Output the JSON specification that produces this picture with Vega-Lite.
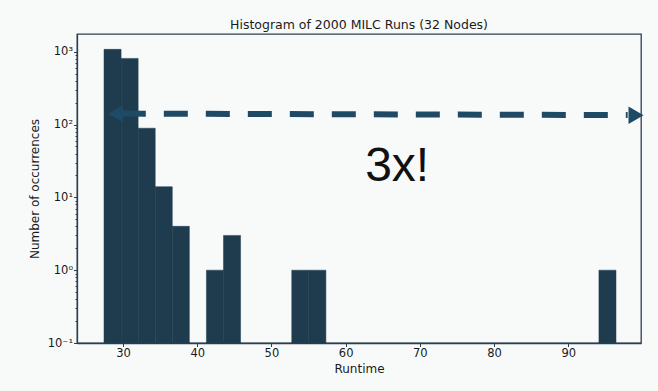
{
  "$schema": "https://vega.github.io/schema/vega-lite/v6.json",
  "width": 564,
  "height": 309,
  "autosize": "none",
  "padding": {"left": 77, "top": 34, "right": 17, "bottom": 48},
  "background": "#f8fafa",
  "title": {
    "text": "Histogram of 2000 MILC Runs (32 Nodes)",
    "font": "DejaVu Sans",
    "fontSize": 12.5,
    "fontWeight": "normal",
    "color": "#1a1a1a",
    "offset": 3
  },
  "config": {
    "view": {"stroke": "#2b3f4c", "strokeWidth": 1.3, "fill": "#f8fafa"},
    "axis": {
      "domainColor": "#2b3f4c",
      "domainWidth": 1.3,
      "tickColor": "#2b3f4c",
      "labelFont": "DejaVu Sans",
      "labelFontSize": 11.5,
      "labelColor": "#1a1a1a",
      "titleFont": "DejaVu Sans",
      "titleFontSize": 12,
      "titleFontWeight": "normal",
      "titleColor": "#1a1a1a",
      "grid": false
    }
  },
  "datasets": {
    "bins": [
      {"start": 27.44, "end": 29.74, "count": 1077},
      {"start": 29.74, "end": 32.04, "count": 809},
      {"start": 32.04, "end": 34.34, "count": 89},
      {"start": 34.34, "end": 36.64, "count": 14},
      {"start": 36.64, "end": 38.94, "count": 4},
      {"start": 41.24, "end": 43.54, "count": 1},
      {"start": 43.54, "end": 45.84, "count": 3},
      {"start": 52.74, "end": 55.04, "count": 1},
      {"start": 55.04, "end": 57.34, "count": 1},
      {"start": 94.13, "end": 96.43, "count": 1}
    ],
    "arrowline": [
      {"runtime": 29.84, "level": 141.3},
      {"runtime": 98.0, "level": 134.7}
    ],
    "arrowheads": [
      {"runtime": 28.99, "level": 141, "end": "left"},
      {"runtime": 99.13, "level": 134.2, "end": "right"}
    ],
    "note": [
      {"runtime": 66.94, "level": 17.0, "label": "3x!"}
    ]
  },
  "layer": [
    {
      "data": {"name": "bins"},
      "mark": {"type": "rect", "fill": "#1f3c4f", "stroke": "#1f3c4f", "strokeWidth": 0.5},
      "encoding": {
        "x": {
          "field": "start",
          "type": "quantitative",
          "scale": {"domain": [23.8, 99.8], "nice": false, "zero": false},
          "axis": {
            "title": "Runtime",
            "values": [30, 40, 50, 60, 70, 80, 90],
            "tickSize": 3.5,
            "labelPadding": 1,
            "titlePadding": 4
          }
        },
        "x2": {"field": "end"},
        "y": {
          "field": "count",
          "type": "quantitative",
          "scale": {"type": "log", "domain": [0.1, 1750], "nice": false},
          "axis": {
            "title": "Number of occurrences",
            "values": [0.1, 0.2, 0.3, 0.4, 0.5, 0.6, 0.7, 0.8, 0.9, 1, 2, 3, 4, 5, 6, 7, 8, 9, 10, 20, 30, 40, 50, 60, 70, 80, 90, 100, 200, 300, 400, 500, 600, 700, 800, 900, 1000],
            "labelExpr": "datum.value == 1000 ? '10³' : datum.value == 100 ? '10²' : datum.value == 10 ? '10¹' : datum.value == 1 ? '10⁰' : datum.value == 0.1 ? '10⁻¹' : ''",
            "tickSize": {"condition": {"test": "indexof([0.1, 1, 10, 100, 1000], datum.value) >= 0", "value": 3.5}, "value": 2},
            "labelPadding": 1,
            "titlePadding": 6,
            "labelFlush": false,
            "labelOverlap": false
          }
        },
        "y2": {"datum": 0.1}
      }
    },
    {
      "data": {"name": "arrowline"},
      "mark": {"type": "line", "color": "#1e4a66", "strokeWidth": 6, "strokeDash": [24, 18], "strokeCap": "butt", "clip": false},
      "encoding": {
        "x": {"field": "runtime", "type": "quantitative"},
        "y": {"field": "level", "type": "quantitative"}
      }
    },
    {
      "data": {"name": "arrowheads"},
      "mark": {"type": "point", "filled": true, "opacity": 1, "color": "#1e4a66", "size": 300, "clip": false},
      "encoding": {
        "x": {"field": "runtime", "type": "quantitative"},
        "y": {"field": "level", "type": "quantitative"},
        "shape": {
          "field": "end",
          "type": "nominal",
          "scale": {"domain": ["left", "right"], "range": ["triangle-left", "triangle-right"]},
          "legend": null
        }
      }
    },
    {
      "data": {"name": "note"},
      "mark": {"type": "text", "font": "Liberation Sans", "fontSize": 48, "color": "#111111", "align": "center", "baseline": "alphabetic"},
      "encoding": {
        "x": {"field": "runtime", "type": "quantitative"},
        "y": {"field": "level", "type": "quantitative"},
        "text": {"field": "label"}
      }
    }
  ]
}
